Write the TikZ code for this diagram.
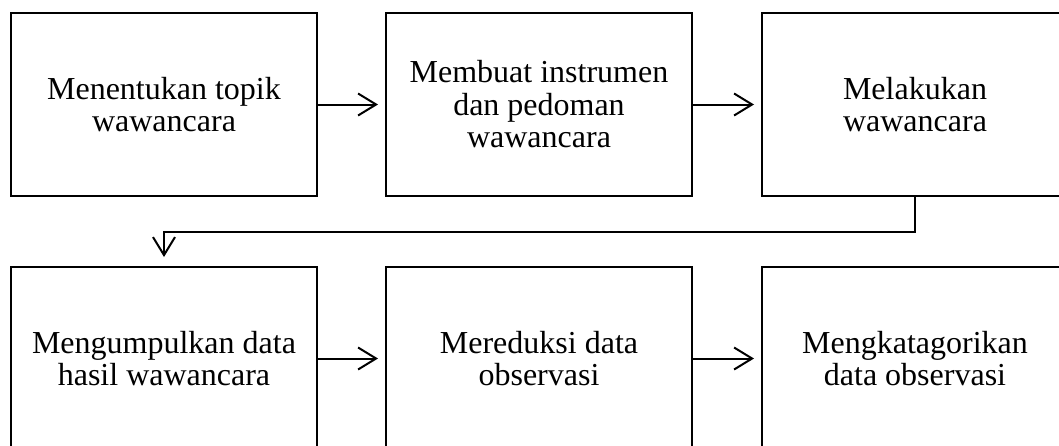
\documentclass[tikz,border=0pt]{standalone}
\usepackage{fontspec}
\setmainfont{Liberation Serif}
\usetikzlibrary{arrows.meta}
\begin{document}
\begin{tikzpicture}[x=1pt,y=-1pt,
  stepbox/.style={draw,line width=2pt,rectangle,anchor=north west,
    minimum width=306pt,minimum height=183pt,align=center,inner sep=0pt,
    font=\fontsize{32}{32.5}\selectfont},
  flow/.style={line width=2pt,-{Straight Barb[length=18pt,width=22pt,line width=2pt]}}]
\path[use as bounding box,clip] (0,0) rectangle (1059,445);
% top row
\node[stepbox] (b1) at (10,12)  {Menentukan topik\\wawancara};
\node[stepbox] (b2) at (385,12) {Membuat instrumen\\dan pedoman\\wawancara};
\node[stepbox] (b3) at (761,12) {Melakukan\\wawancara};
% bottom row
\node[stepbox] (b4) at (10,266)  {Mengumpulkan data\\hasil wawancara};
\node[stepbox] (b5) at (385,266) {Mereduksi data\\observasi};
\node[stepbox] (b6) at (761,266) {Mengkatagorikan\\data observasi};
% connectors
\draw[flow] (b1.east) -- ([xshift=-7pt]b2.west);
\draw[flow] (b2.east) -- ([xshift=-7pt]b3.west);
\draw[flow] (b4.east) -- ([xshift=-7pt]b5.west);
\draw[flow] (b5.east) -- ([xshift=-7pt]b6.west);
\coordinate (turn) at ([yshift=-35pt]b3.south);
\draw[flow] (b3.south) -- (turn) -| ([yshift=9pt]b4.north);
\end{tikzpicture}
\end{document}
